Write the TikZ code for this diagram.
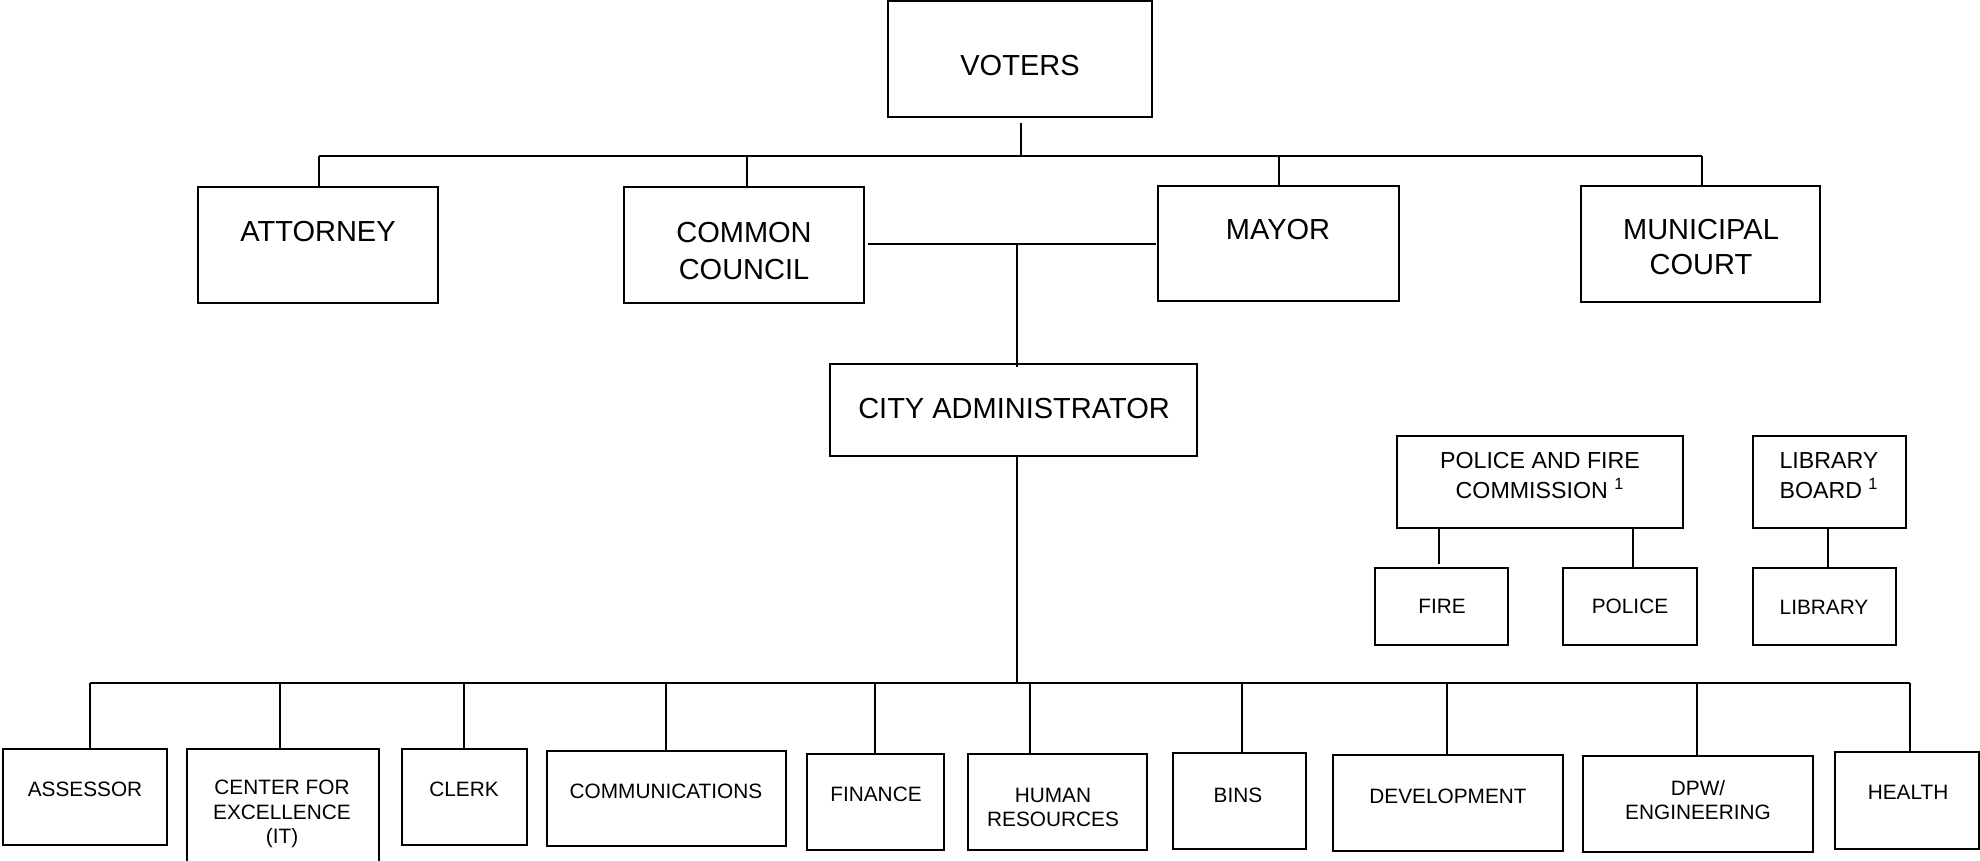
\documentclass[tikz,border=0pt]{standalone}
\usepackage{fontspec}
\setmainfont{Liberation Sans}
\usetikzlibrary{fit}
\begin{document}
\begin{tikzpicture}[x=0.5pt,y=-0.5pt,
  box/.style={draw, line width=1pt, inner sep=0pt},
  conn/.style={line width=1pt},
  big/.style={font=\fontsize{14.5}{17.5}\selectfont, align=center, inner sep=0pt},
  mid/.style={font=\fontsize{11.6}{14.7}\selectfont, align=center, inner sep=0pt},
  sml/.style={font=\fontsize{10.4}{12.25}\selectfont, align=center, inner sep=0pt},
]
\useasboundingbox (0,0) rectangle (1980,861);

% ---- boxes ----
\node[box, fit={(888,1)(1152,117)}] (voters) {};
\node[box, fit={(198,187)(438,303)}] (att) {};
\node[box, fit={(624,187)(864,303)}] (cc) {};
\node[box, fit={(1158,186)(1399,301)}] (mayor) {};
\node[box, fit={(1581,186)(1820,302)}] (mc) {};
\node[box, fit={(830,364)(1197,456)}] (ca) {};
\node[box, fit={(1397,436)(1683,528)}] (pfc) {};
\node[box, fit={(1753,436)(1906,528)}] (lb) {};
\node[box, fit={(1375,568)(1508,645)}] (fire) {};
\node[box, fit={(1563,568)(1697,645)}] (police) {};
\node[box, fit={(1753,568)(1896,645)}] (lib) {};
\node[box, fit={(3,749)(167,845)}] (ass) {};
\node[box, fit={(187,749)(379,880)}] (cfe) {};
\node[box, fit={(402,749)(527,845)}] (clerk) {};
\node[box, fit={(547,751)(786,846)}] (comm) {};
\node[box, fit={(807,754)(944,850)}] (fin) {};
\node[box, fit={(968,754)(1147,850)}] (hr) {};
\node[box, fit={(1173,753)(1306,849)}] (bins) {};
\node[box, fit={(1333,755)(1563,851)}] (dev) {};
\node[box, fit={(1583,756)(1813,852)}] (dpw) {};
\node[box, fit={(1835,752)(1979,849)}] (health) {};

% ---- texts ----
\node[big] (voters-t) at (1020,66) {VOTERS};
\node[big] (att-t) at (318,232) {ATTORNEY};
\node[big, font=\fontsize{14.5}{18.6}\selectfont] (cc-t) at (744,251) {COMMON\\COUNCIL};
\node[big] (mayor-t) at (1278,229.5) {MAYOR};
\node[big] (mc-t) at (1701,246.7) {MUNICIPAL\\COURT};
\node[big] (ca-t) at (1014,409) {CITY ADMINISTRATOR};
\node[mid] (pfc-t) at (1540,475.5) {POLICE AND FIRE\\COMMISSION \textsuperscript{1}};
\node[mid] (lb-t) at (1829,475.5) {LIBRARY\\BOARD \textsuperscript{1}};
\node[sml] (fire-t) at (1442,606.5) {FIRE};
\node[sml] (police-t) at (1630,606.5) {POLICE};
\node[sml] (lib-t) at (1824,607) {LIBRARY};
\node[sml] (ass-t) at (85,789) {ASSESSOR};
\node[sml] (cfe-t) at (282,814) {CENTER FOR\\EXCELLENCE\\(IT)};
\node[sml] (clerk-t) at (464,789) {CLERK};
\node[sml] (comm-t) at (666,791) {COMMUNICATIONS};
\node[sml] (fin-t) at (876,794) {FINANCE};
\node[sml] (hr-t) at (1053,807.5) {HUMAN\\RESOURCES};
\node[sml] (bins-t) at (1238,795) {BINS};
\node[sml] (dev-t) at (1448,796) {DEVELOPMENT};
\node[sml] (dpw-t) at (1698,800) {DPW/\\ENGINEERING};
\node[sml] (health-t) at (1908,792.5) {HEALTH};

% ---- top connectors ----
\coordinate (vt) at (1021,156);
\coordinate (tb-l) at (319,156);
\coordinate (tb-r) at (1702,156);
\coordinate (tb-cc) at (747,156);
\coordinate (tb-m) at (1279,156);
\draw[conn] ([yshift=-2.5pt]voters.south -| vt) -- (vt);
\draw[conn] (tb-l) -- (tb-r);
\draw[conn] (tb-l) -- (tb-l |- att.north);
\draw[conn] (tb-cc) -- (tb-cc |- cc.north);
\draw[conn] (tb-m) -- (tb-m |- mayor.north);
\draw[conn] (tb-r) -- (tb-r |- mc.north);

% ---- council / mayor to administrator ----
\coordinate (cm-l) at (868,244);
\coordinate (cm-r) at (1156,244);
\coordinate (cm-j) at (1017,244);
\draw[conn] (cm-l) -- (cm-r);
\draw[conn] (cm-j) -- ([yshift=-2pt]cm-j |- ca.north);

% ---- administrator to departments ----
\coordinate (bb-l) at (90,683);
\coordinate (bb-r) at (1910,683);
\coordinate (bb-j) at (1017,683);
\draw[conn] (ca.south -| bb-j) -- (bb-j);
\draw[conn] (bb-l) -- (bb-r);
\foreach \n/\x in {ass/90, cfe/280, clerk/464, comm/666, fin/875, hr/1030, bins/1242, dev/1447, dpw/1697, health/1910}{
  \coordinate (j\n) at (\x,683);
  \draw[conn] (j\n) -- (j\n |- \n.north);
}

% ---- commissions ----
\coordinate (jf) at (1439,564);
\coordinate (jp) at (1633,568);
\coordinate (jl) at (1828,568);
\draw[conn] (pfc.south -| jf) -- (jf);
\draw[conn] (pfc.south -| jp) -- (police.north -| jp);
\draw[conn] (lb.south -| jl) -- (lib.north -| jl);
\end{tikzpicture}
\end{document}
